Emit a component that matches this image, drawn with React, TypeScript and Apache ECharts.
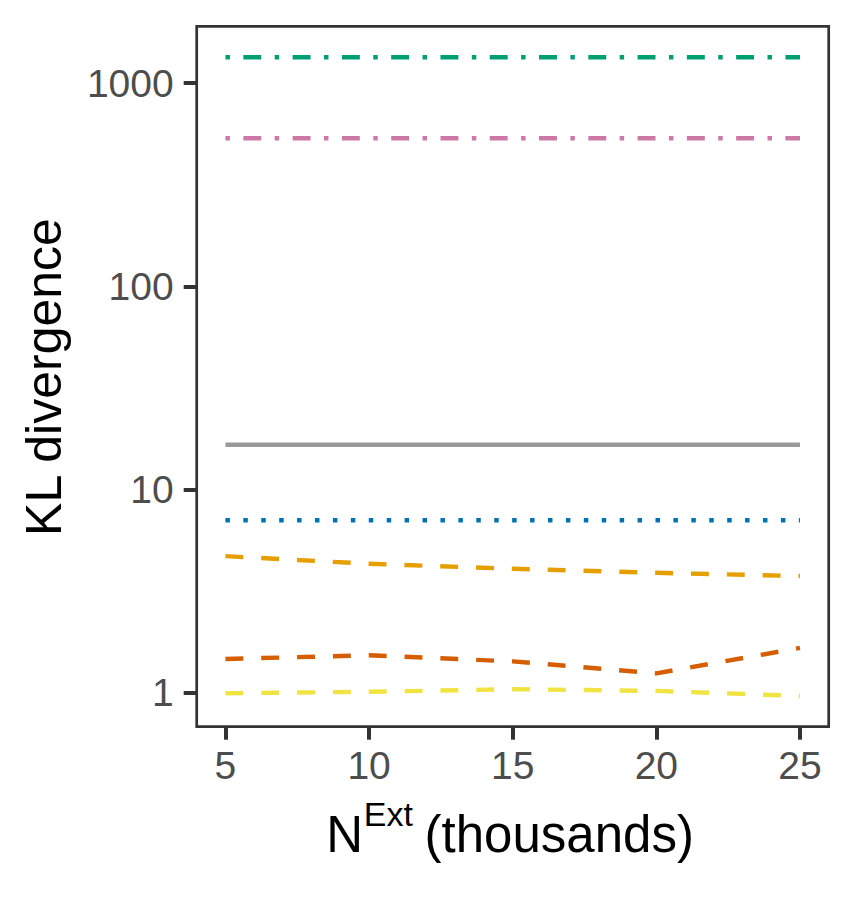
import React, { useEffect, useRef } from "react";
import * as echarts from "echarts";

// ---- data ----
const xValues = [5, 10, 15, 20, 25];
const greenDotDash = [1342, 1342, 1342, 1342, 1342];
const pinkDotDash = [536, 536, 536, 536, 536];
const graySolid = [16.6, 16.6, 16.6, 16.6, 16.6];
const blueDotted = [7.06, 7.06, 7.06, 7.06, 7.06];
const orangeDashed = [4.7, 4.31, 4.07, 3.89, 3.75];
const redDashed = [1.465, 1.527, 1.426, 1.245, 1.66];
const yellowDashed = [0.993, 1.01, 1.04, 1.02, 0.963];

const xTicks = [5, 10, 15, 20, 25];
const yTicks = [1, 10, 100, 1000];

const FONT = "'Liberation Sans', Arial, Helvetica, sans-serif";
const U = 4.48;
const DOTDASH = [U, 3 * U, 4 * U, 3 * U];
const DOTTED = [U, 3 * U];
const DASHED = [4 * U, 4 * U];

function makeSeries(name: string, values: number[], color: string, dash: any) {
  return {
    name,
    type: "line",
    data: xValues.map((x, i) => [x, values[i]]),
    showSymbol: false,
    symbol: "none",
    silent: true,
    clip: true,
    lineStyle: { color, width: 4.4, type: dash, cap: "butt", join: "round" },
    emphasis: { disabled: true },
  };
}

export default function App() {
  const ref = useRef<HTMLDivElement>(null);
  useEffect(() => {
    if (!ref.current) return;
    const chart = echarts.init(ref.current, undefined, { renderer: "svg" });
    chart.setOption({
      animation: false,
      backgroundColor: "#ffffff",
      textStyle: { fontFamily: FONT },
      grid: {
        left: 196.7,
        top: 26.3,
        right: 26.3,
        bottom: 173.3,
        show: true,
        borderColor: "#333333",
        borderWidth: 2.7,
        backgroundColor: "transparent",
        containLabel: false,
        outerBoundsMode: "none",
      },
      xAxis: {
        type: "value",
        min: 4,
        max: 26,
        axisLine: { show: false },
        splitLine: { show: false },
        axisTick: {
          show: true,
          length: 13,
          customValues: xTicks,
          lineStyle: { color: "#333333", width: 4 },
        },
        axisLabel: {
          show: true,
          customValues: xTicks,
          margin: 19,
          fontSize: 39,
          lineHeight: 39,
          color: "#4D4D4D",
          fontFamily: FONT,
          formatter: (v: number) => String(Math.round(v)),
        },
      },
      yAxis: {
        type: "log",
        logBase: 10,
        min: 0.68,
        max: 1905,
        axisLine: { show: false },
        splitLine: { show: false },
        minorTick: { show: false },
        axisTick: {
          show: true,
          length: 13,
          customValues: yTicks,
          lineStyle: { color: "#333333", width: 4 },
        },
        axisLabel: {
          show: true,
          customValues: yTicks,
          margin: 23,
          fontSize: 39,
          lineHeight: 39,
          color: "#4D4D4D",
          fontFamily: FONT,
          formatter: (v: number) => String(Math.round(v)),
        },
      },
      series: [
        makeSeries("green", greenDotDash, "#009E73", DOTDASH),
        makeSeries("pink", pinkDotDash, "#CC79A7", DOTDASH),
        makeSeries("gray", graySolid, "#999999", "solid"),
        makeSeries("blue", blueDotted, "#0072B2", DOTTED),
        makeSeries("orange", orangeDashed, "#E69F00", DASHED),
        makeSeries("red", redDashed, "#D55E00", DASHED),
        makeSeries("yellow", yellowDashed, "#F0E442", DASHED),
      ],
      graphic: [
        {
          type: "text",
          x: 44.4,
          y: 377,
          rotation: Math.PI / 2,
          silent: true,
          style: {
            text: "KL divergence",
            fontSize: 50,
            fontFamily: FONT,
            fill: "#000000",
            align: "center",
            verticalAlign: "middle",
          },
        },
        {
          type: "text",
          x: 326.2,
          y: 834.4,
          silent: true,
          style: {
            text: "N",
            fontSize: 51,
            fontFamily: FONT,
            fill: "#000000",
            align: "left",
            verticalAlign: "middle",
          },
        },
        {
          type: "text",
          x: 363.8,
          y: 814.2,
          silent: true,
          style: {
            text: "Ext",
            fontSize: 34,
            fontFamily: FONT,
            fill: "#000000",
            align: "left",
            verticalAlign: "middle",
          },
        },
        {
          type: "text",
          x: 424.6,
          y: 834.4,
          silent: true,
          style: {
            text: "(thousands)",
            fontSize: 51,
            fontFamily: FONT,
            fill: "#000000",
            align: "left",
            verticalAlign: "middle",
          },
        },
      ],
    });
    return () => chart.dispose();
  }, []);
  return (
    <div
      ref={ref}
      style={{ position: "absolute", left: 0, top: 0, width: 855, height: 900 }}
    />
  );
}
